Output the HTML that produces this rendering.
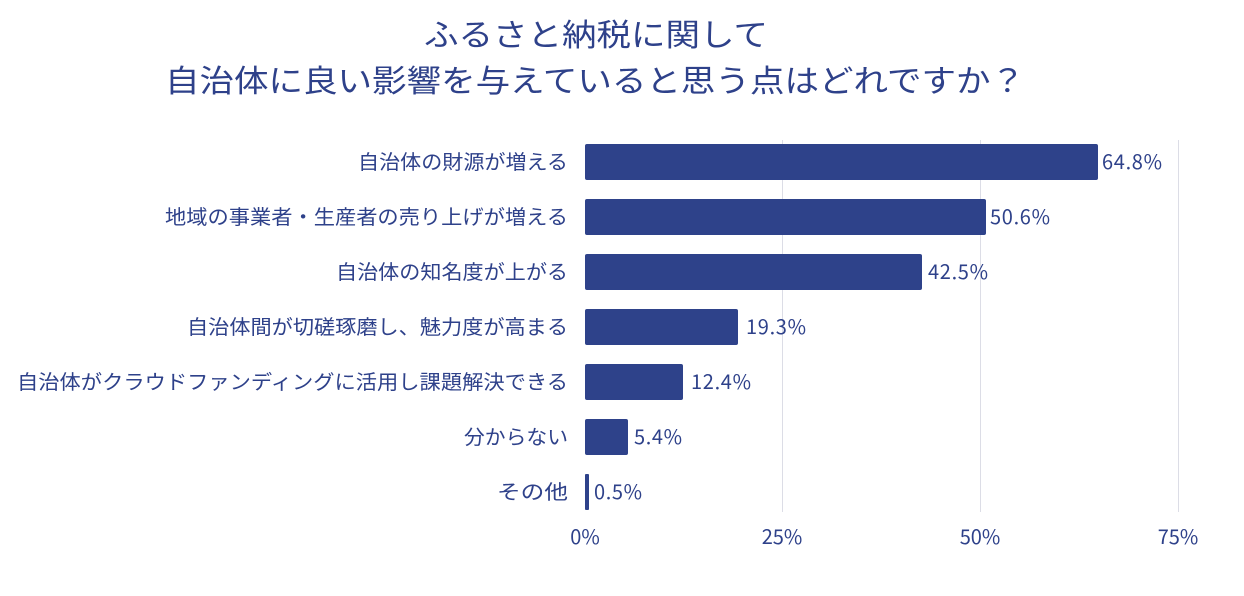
<!DOCTYPE html>
<html><head><meta charset="utf-8"><style>
body{margin:0;background:#fff;}
svg text{font-family:"Noto Sans CJK JP","Liberation Sans",sans-serif;fill:#2e418a;}
</style></head><body>
<svg width="1244" height="591" xmlns="http://www.w3.org/2000/svg">
<rect width="1244" height="591" fill="#fff"/>
<text x="424" y="46" font-size="31" textLength="344" lengthAdjust="spacingAndGlyphs">ふるさと納税に関して</text>
<text x="165" y="92" font-size="31" textLength="860" lengthAdjust="spacingAndGlyphs">自治体に良い影響を与えていると思う点はどれですか？</text>
<g stroke="#dcdde6" stroke-width="1">
<line x1="782.5" y1="140" x2="782.5" y2="512"/>
<line x1="980.5" y1="140" x2="980.5" y2="512"/>
<line x1="1178.5" y1="140" x2="1178.5" y2="512"/>
</g>
<g fill="#2e428a">
<rect x="585" y="144" width="513" height="36" rx="2"/>
<rect x="585" y="199" width="401" height="36" rx="2"/>
<rect x="585" y="254" width="337" height="36" rx="2"/>
<rect x="585" y="309" width="153" height="36" rx="2"/>
<rect x="585" y="364" width="98" height="36" rx="2"/>
<rect x="585" y="419" width="43" height="36" rx="2"/>
<rect x="585" y="474" width="4" height="36" rx="1"/>
</g>
<g font-size="20">
<text x="358" y="169" textLength="210" lengthAdjust="spacingAndGlyphs">自治体の財源が増える</text>
<text x="165" y="224" textLength="403" lengthAdjust="spacingAndGlyphs">地域の事業者・生産者の売り上げが増える</text>
<text x="336" y="279" textLength="232" lengthAdjust="spacingAndGlyphs">自治体の知名度が上がる</text>
<text x="187" y="334" textLength="381" lengthAdjust="spacingAndGlyphs">自治体間が切磋琢磨し、魅力度が高まる</text>
<text x="17" y="389" textLength="551" lengthAdjust="spacingAndGlyphs">自治体がクラウドファンディングに活用し課題解決できる</text>
<text x="464" y="444" textLength="104" lengthAdjust="spacingAndGlyphs">分からない</text>
<text x="497" y="499" textLength="71" lengthAdjust="spacingAndGlyphs">その他</text>
</g>
<g font-size="20">
<text x="1102" y="169" textLength="60">64.8%</text>
<text x="990" y="224" textLength="60">50.6%</text>
<text x="928" y="279" textLength="60">42.5%</text>
<text x="746" y="334" textLength="60">19.3%</text>
<text x="691" y="389" textLength="60">12.4%</text>
<text x="634" y="444" textLength="48">5.4%</text>
<text x="594" y="499" textLength="48">0.5%</text>
</g>
<g font-size="20" text-anchor="middle">
<text x="585" y="544">0%</text>
<text x="782" y="544">25%</text>
<text x="980" y="544">50%</text>
<text x="1178" y="544">75%</text>
</g>
</svg>
</body></html>
